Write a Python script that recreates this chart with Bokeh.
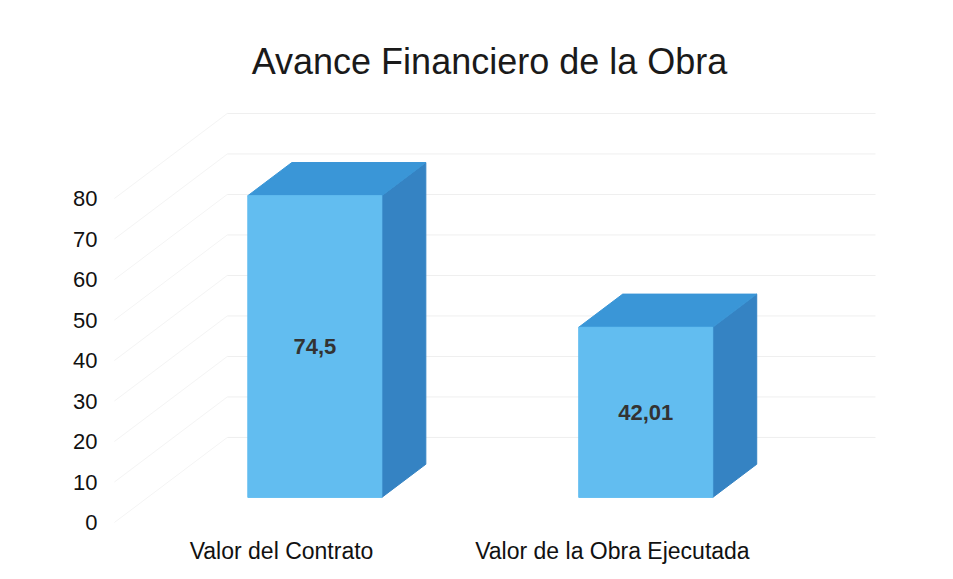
from bokeh.plotting import figure
from bokeh.models import ColumnDataSource, FixedTicker, Range1d
from bokeh.core.properties import value
from bokeh.embed import file_html
from bokeh.resources import INLINE

# ---- data ----
categories = ["Valor del Contrato", "Valor de la Obra Ejecutada"]
values = [74.5, 42.01]
y_ticks = [0, 10, 20, 30, 40, 50, 60, 70, 80]
title_text = "Avance Financiero de la Obra"

# ---- 3D style geometry (data units) ----
DX = 0.341      # full floor depth, horizontal
DY = 21.0       # full floor depth, vertical
BAR_W = 0.405
Z_FRONT = 0.295
Z_BACK = 0.685
FRONT_COL = "#62BDF0"
TOP_COL = "#3A96D7"
SIDE_COL = "#3583C3"
GRID_COL = "#efefef"
SIDE_GRID_COL = "#f4f4f4"
FONT = "Liberation Sans"

p = figure(width=953, height=579, output_backend="svg", toolbar_location=None,
           x_range=Range1d(-0.538, 1.795), y_range=Range1d(-3.21, 106.67),
           min_border_left=103, min_border_right=78, min_border_top=90,
           min_border_bottom=44)
p.outline_line_color = None
p.background_fill_color = "white"
p.border_fill_color = "white"
p.xgrid.visible = False
p.ygrid.visible = False

# back wall & side wall gridlines
x_left_front = -0.505
wall_xs, wall_ys, side_xs, side_ys = [], [], [], []
for t in y_ticks:
    wall_xs.append([x_left_front + DX, 2.0])
    wall_ys.append([t + DY, t + DY])
    side_xs.append([x_left_front, x_left_front + DX])
    side_ys.append([t, t + DY])
p.multi_line(wall_xs, wall_ys, line_color=GRID_COL, line_width=1)
p.multi_line(side_xs, side_ys, line_color=SIDE_GRID_COL, line_width=1)

# bars
front_xs, front_ys, top_xs, top_ys, side_xs2, side_ys2 = [], [], [], [], [], []
lab_x, lab_y, lab_t = [], [], []
zd = Z_BACK - Z_FRONT
for i, v in enumerate(values):
    x0 = i - BAR_W / 2 + Z_FRONT * DX
    x1 = i + BAR_W / 2 + Z_FRONT * DX
    y0 = Z_FRONT * DY
    y1 = y0 + v
    ox, oy = zd * DX, zd * DY
    front_xs.append([x0, x1, x1, x0]); front_ys.append([y0, y0, y1, y1])
    top_xs.append([x0, x1, x1 + ox, x0 + ox]); top_ys.append([y1, y1, y1 + oy, y1 + oy])
    side_xs2.append([x1, x1 + ox, x1 + ox, x1]); side_ys2.append([y0, y0 + oy, y1 + oy, y1])
    lab_x.append((x0 + x1) / 2); lab_y.append((y0 + y1) / 2)
    lab_t.append(f"{v}".replace(".", ","))

p.patches(side_xs2, side_ys2, fill_color=SIDE_COL, line_color=SIDE_COL)
p.patches(top_xs, top_ys, fill_color=TOP_COL, line_color=TOP_COL)
p.patches(front_xs, front_ys, fill_color=FRONT_COL, line_color=FRONT_COL)

src = ColumnDataSource(dict(x=lab_x, y=lab_y, t=lab_t))
p.text(x="x", y="y", text="t", source=src, text_align="center", text_baseline="middle",
       text_font=value(FONT), text_font_style="bold", text_font_size="22px", text_color="#333333")

# axes
p.yaxis.ticker = FixedTicker(ticks=y_ticks)
p.yaxis.axis_line_color = None
p.yaxis.major_tick_line_color = None
p.yaxis.minor_tick_line_color = None
p.yaxis.major_tick_out = 0
p.yaxis.major_label_standoff = 6
p.yaxis.major_label_text_font = FONT
p.yaxis.major_label_text_font_size = "22px"
p.yaxis.major_label_text_color = "#111111"

p.xaxis.ticker = FixedTicker(ticks=list(range(len(categories))))
p.xaxis.major_label_overrides = {i: c for i, c in enumerate(categories)}
p.xaxis.axis_line_color = None
p.xaxis.major_tick_line_color = None
p.xaxis.minor_tick_line_color = None
p.xaxis.major_tick_out = 0
p.xaxis.major_label_standoff = 2
p.xaxis.major_label_text_font = FONT
p.xaxis.major_label_text_font_size = "23px"
p.xaxis.major_label_text_color = "#111111"

p.title.text = title_text
p.title.align = "center"
p.title.text_font = FONT
p.title.text_font_size = "36px"
p.title.text_font_style = "normal"
p.title.text_color = "#1a1a1a"
p.title.standoff = 18

open("out.html", "w").write(file_html(p, INLINE))
